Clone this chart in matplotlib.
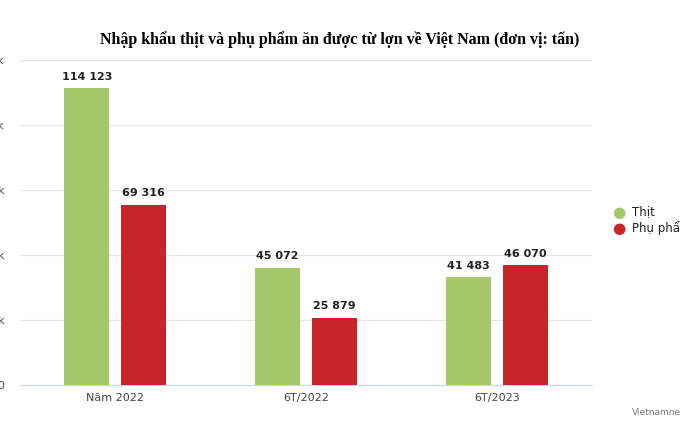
import matplotlib.pyplot as plt
import numpy as np

categories = ['Năm 2022', '6T/2022', '6T/2023']
thit = [114123, 45072, 41483]
phu_pham = [69316, 25879, 46070]
series_names = ['Thịt', 'Phụ phẩm']
colors = ['#a5c96a', '#c8252a']
yticks = [0, 25000, 50000, 75000, 100000, 125000]
ytick_labels = ['0', '25k', '50k', '75k', '100k', '125k']

fig = plt.figure(figsize=(6.8, 4.44), dpi=100)
ax = fig.add_axes([20/680, 59/444, 572/680, 325/444])

x = np.arange(len(categories))
w = 0.236
off = 0.149
for vals, sign, c in [(thit, -1, colors[0]), (phu_pham, 1, colors[1])]:
    bars = ax.bar(x + sign*off, vals, w, color=c, zorder=3)
    for b, v in zip(bars, vals):
        ax.text(b.get_x() + b.get_width()/2, v + 2500, f'{v:,}'.replace(',', ' '),
                ha='center', va='bottom', fontsize=8, fontweight='semibold', color='#222222')

ax.set_xlim(-0.5, 2.5)
ax.set_ylim(0, 125000)
ax.set_xticks(x)
ax.set_xticklabels(categories, fontsize=8, color='#444444')
ax.set_yticks(yticks)
ax.set_yticklabels(ytick_labels, fontsize=8, color='#444466')
ax.tick_params(axis='y', length=0, pad=11)
ax.tick_params(axis='x', length=0, pad=6)
ax.grid(axis='y', color='#e6e6e6', linewidth=0.8, zorder=0)
for s in ['top', 'right', 'left']:
    ax.spines[s].set_visible(False)
ax.spines['bottom'].set_color('#ccd6eb')

fig.text(340/680, 1 - 40/444, 'Nhập khẩu thịt và phụ phẩm ăn được từ lợn về Việt Nam (đơn vị: tấn)',
         ha='center', va='center', fontsize=11.5, fontweight='bold', family='Liberation Serif')

for i, (name, c) in enumerate(zip(series_names, colors)):
    yy = 1 - (212 + i*16)/444
    fig.text(619/680, yy, '●', color=c, fontsize=11, ha='center', va='center')
    fig.text(632/680, yy, name, fontsize=8.5, ha='left', va='center', color='#222222')

fig.text(632/680, 1 - 412/444, 'Vietnamnet.vn', fontsize=6.5, color='#777777', ha='left', va='center')

fig.savefig('out.png', dpi=100)
